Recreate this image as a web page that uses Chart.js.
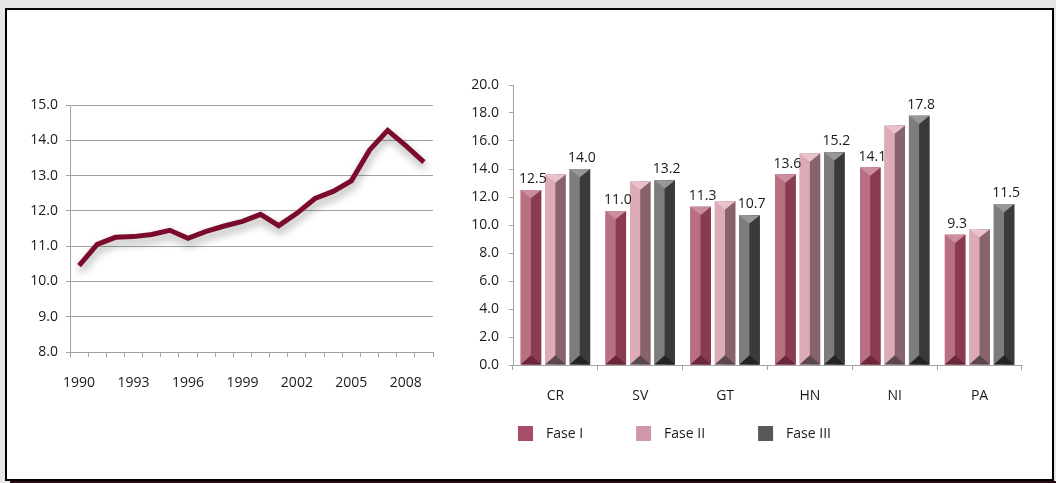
<!DOCTYPE html>
<html>
<head>
<meta charset="utf-8">
<script src="https://cdn.jsdelivr.net/npm/chart.js@4.4.1/dist/chart.umd.min.js"></script>
<style>
  html, body { margin: 0; padding: 0; }
  body { width: 1056px; height: 483px; background: #e6e6e6; position: relative; overflow: hidden; font-family: "Open Sans", sans-serif; }
  #frame { position: absolute; left: 5px; top: 8px; width: 1045px; height: 469px; border: 2px solid #000; background: #fff; }
  #shade { position: absolute; left: 10px; top: 481px; width: 1046px; height: 2px; background: #2b0a16; }
  #left { position: absolute; left: 0; top: 80px; width: 450px; height: 330px; }
  #right { position: absolute; left: 455px; top: 60px; width: 600px; height: 420px; }
</style>
</head>
<body>
<div id="frame"></div>
<div id="shade"></div>
<div id="left"><canvas id="lineChart"></canvas></div>
<div id="right"><canvas id="barChart"></canvas></div>
<script>
var years = ['1990','1991','1992','1993','1994','1995','1996','1997','1998','1999',
             '2000','2001','2002','2003','2004','2005','2006','2007','2008','2009'];
var lineValues = [10.45, 11.05, 11.25, 11.27, 11.33, 11.45, 11.22, 11.42, 11.57, 11.7,
                  11.9, 11.58, 11.93, 12.35, 12.55, 12.85, 13.72, 14.28, 13.85, 13.38];

var countries = ['CR', 'SV', 'GT', 'HN', 'NI', 'PA'];
var faseI   = [12.5, 11.0, 11.3, 13.6, 14.1, 9.3];
var faseII  = [13.6, 13.1, 11.7, 15.1, 17.1, 9.7];
var faseIII = [14.0, 13.2, 10.7, 15.2, 17.8, 11.5];
var seriesNames = ['Fase I', 'Fase II', 'Fase III'];

Chart.defaults.font.family = '"Open Sans", sans-serif';
Chart.defaults.font.size = 14;
Chart.defaults.color = '#1a1a1a';
Chart.defaults.animation = false;

var axisGray = '#a3a3a3';

// soft shadow under the line
var lineShadow = {
  id: 'lineShadow',
  beforeDatasetsDraw: function(chart) {
    var ctx = chart.ctx;
    ctx.save();
    ctx.shadowColor = 'rgba(0,0,0,0.35)';
    ctx.shadowBlur = 8;
    ctx.shadowOffsetX = 1;
    ctx.shadowOffsetY = 5;
  },
  afterDatasetsDraw: function(chart) {
    chart.ctx.restore();
  }
};

new Chart('lineChart', {
  type: 'line',
  data: {
    labels: years,
    datasets: [{
      data: lineValues,
      borderColor: '#7b0b2b',
      borderWidth: 5,
      pointRadius: 0,
      tension: 0,
      fill: false
    }]
  },
  options: {
    responsive: true,
    maintainAspectRatio: false,
    layout: { padding: { top: 25, right: 17, left: 0, bottom: 0 } },
    plugins: { legend: { display: false }, tooltip: { enabled: false } },
    scales: {
      x: {
        offset: true,
        grid: { offset: true, drawOnChartArea: false, drawTicks: true, tickLength: 5, color: axisGray },
        border: { color: axisGray },
        ticks: {
          autoSkip: false, maxRotation: 0, padding: 18,
          callback: function(v, i) { return i % 3 === 0 ? years[i] : ''; }
        },
        afterFit: function(s) { s.height = 58; }
      },
      y: {
        min: 8, max: 15,
        grid: { color: axisGray, tickLength: 4 },
        border: { color: axisGray },
        ticks: { stepSize: 1, padding: 8, callback: function(v) { return v.toFixed(1); } },
        afterFit: function(s) { s.width = 70; }
      }
    }
  },
  plugins: [lineShadow]
});

// bevelled faces: light, dark, top and bottom triangles
var faces = [
  { light: '#b86f82', dark: '#8a3b52', top: '#cb8e9e', bottom: '#6a2739' },
  { light: '#dcabb7', dark: '#87646c', top: '#e8c3cc', bottom: '#5a484c' },
  { light: '#7d7d7d', dark: '#3a3a3c', top: '#989898', bottom: '#242424' }
];
var legendColors = ['#a84d68', '#cf97a7', '#58585a'];

var bevelBars = {
  id: 'bevelBars',
  afterDatasetsDraw: function(chart) {
    var ctx = chart.ctx;
    chart.data.datasets.forEach(function(ds, di) {
      var f = faces[di];
      chart.getDatasetMeta(di).data.forEach(function(el) {
        var w = el.width, l = el.x - w / 2, r = el.x + w / 2, t = el.y, b = el.base;
        ctx.save();
        ctx.fillStyle = f.light; ctx.fillRect(l, t, w / 2, b - t);
        ctx.fillStyle = f.dark; ctx.fillRect(el.x, t, w / 2, b - t);
        ctx.fillStyle = f.top;
        ctx.beginPath(); ctx.moveTo(l, t); ctx.lineTo(r, t); ctx.lineTo(el.x, t + w * 0.4); ctx.closePath(); ctx.fill();
        ctx.fillStyle = f.bottom;
        ctx.beginPath(); ctx.moveTo(l, b); ctx.lineTo(r, b); ctx.lineTo(el.x, b - w * 0.45); ctx.closePath(); ctx.fill();
        ctx.restore();
      });
    });
  }
};

// values above Fase I and Fase III
var valueLabels = {
  id: 'valueLabels',
  afterDatasetsDraw: function(chart) {
    var ctx = chart.ctx;
    ctx.save();
    ctx.font = '14px "Open Sans", sans-serif';
    ctx.fillStyle = '#1a1a1a';
    ctx.textAlign = 'center';
    ctx.textBaseline = 'bottom';
    [0, 2].forEach(function(di) {
      var ds = chart.data.datasets[di];
      chart.getDatasetMeta(di).data.forEach(function(el, i) {
        ctx.fillText(ds.data[i].toFixed(1), el.x + 2, el.y - 4);
      });
    });
    ctx.restore();
  }
};

// legend row below the category labels
var bottomLegend = {
  id: 'bottomLegend',
  afterDraw: function(chart) {
    var ctx = chart.ctx, area = chart.chartArea;
    var x = area.left + 5, y = area.bottom + 61;
    ctx.save();
    ctx.font = '14px "Open Sans", sans-serif';
    ctx.textBaseline = 'middle';
    chart.data.datasets.forEach(function(ds, di) {
      ctx.fillStyle = legendColors[di];
      ctx.fillRect(x, y, 15, 15);
      ctx.fillStyle = '#1a1a1a';
      ctx.fillText(ds.label, x + 28, y + 8);
      x += 28 + ctx.measureText(ds.label).width + 53;
    });
    ctx.restore();
  }
};

new Chart('barChart', {
  type: 'bar',
  data: {
    labels: countries,
    datasets: [
      { label: seriesNames[0], data: faseI, backgroundColor: legendColors[0] },
      { label: seriesNames[1], data: faseII, backgroundColor: legendColors[1] },
      { label: seriesNames[2], data: faseIII, backgroundColor: legendColors[2] }
    ]
  },
  options: {
    responsive: true,
    maintainAspectRatio: false,
    layout: { padding: { top: 25, right: 33, left: 0, bottom: 0 } },
    datasets: { bar: { categoryPercentage: 0.865, barPercentage: 0.84 } },
    plugins: { legend: { display: false }, tooltip: { enabled: false } },
    scales: {
      x: {
        grid: { offset: true, drawOnChartArea: false, drawTicks: true, tickLength: 5, color: axisGray },
        border: { color: axisGray },
        ticks: { padding: 18 },
        afterFit: function(s) { s.height = 115; }
      },
      y: {
        min: 0, max: 20,
        grid: { drawOnChartArea: false, drawTicks: true, tickLength: 4, color: axisGray },
        border: { color: axisGray },
        ticks: { stepSize: 2, padding: 10, callback: function(v) { return v.toFixed(1); } },
        afterFit: function(s) { s.width = 58; }
      }
    }
  },
  plugins: [bevelBars, valueLabels, bottomLegend]
});
</script>
</body>
</html>
